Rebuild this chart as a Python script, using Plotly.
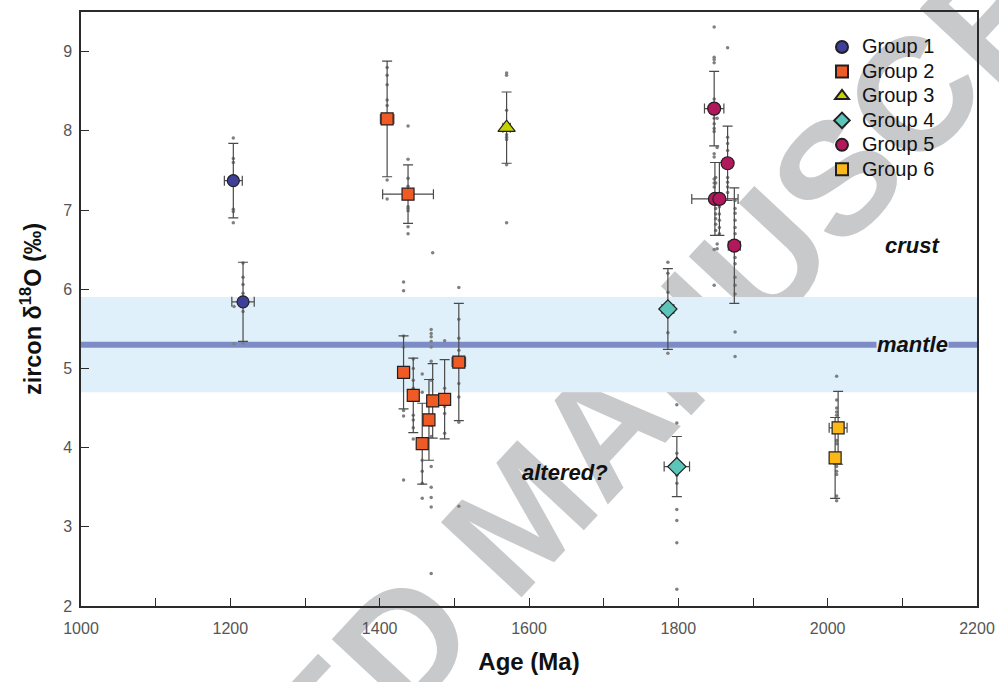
import plotly.graph_objects as go

# ---- mean ages / zircon d18O per sample (Ma, permil) with 2-sigma-ish bars ----
g1_age = [1204, 1217]
g1_d18o = [7.37, 5.84]
g1_err = [0.47, 0.50]
g1_age_err = [12, 15]

g2_age = [1410, 1438, 1432, 1445, 1457, 1466, 1471, 1487, 1506]
g2_d18o = [8.15, 7.20, 4.95, 4.66, 4.05, 4.35, 4.59, 4.61, 5.08]
g2_err = [0.73, 0.37, 0.46, 0.47, 0.51, 0.51, 0.47, 0.50, 0.74]
g2_age_err = [9, 34, 8, 5, 5, 5, 5, 5, 9]

g3_age = [1570]
g3_d18o = [8.04]
g3_err = [0.45]
g3_age_err = [5]

g4_age = [1786, 1798]
g4_d18o = [5.75, 3.76]
g4_err = [0.51, 0.38]
g4_age_err = [8, 17]

g5_age = [1848, 1866, 1849, 1855, 1875]
g5_d18o = [8.28, 7.59, 7.14, 7.14, 6.55]
g5_err = [0.47, 0.47, 0.46, 0.46, 0.73]
g5_age_err = [13, 6, 31, 6, 8]

g6_age = [2014, 2010]
g6_d18o = [4.25, 3.87]
g6_err = [0.46, 0.51]
g6_age_err = [12, 4]

# ---- individual spot analyses ----
dot_age_1 = [1204] * 7 + [1217] * 6 + [1205] * 2
dot_d18o_1 = [7.91, 7.65, 7.60, 7.43, 7.01, 6.98, 6.84,
              6.33, 6.15, 6.06, 5.95, 5.72, 5.32, 5.78, 5.31]

dot_age_2 = ([1410] * 7 + [1438] * 9 + [1471, 1432, 1432, 1506]
             + [1432] * 5 + [1445] * 8 + [1457] * 6
             + [1469] * 14 + [1487] * 5 + [1506] * 7)
dot_d18o_2 = ([8.80, 8.70, 8.58, 8.39, 8.32, 7.38, 7.14]
              + [8.06, 7.64, 7.40, 7.30, 7.04, 7.02, 6.99, 6.79, 6.70]
              + [6.46, 6.09, 5.98, 6.02]
              + [5.41, 5.27, 4.47, 4.40, 3.59]
              + [5.12, 5.00, 4.85, 4.75, 4.41, 4.35, 4.25, 4.11]
              + [4.93, 4.70, 3.84, 3.70, 3.55, 3.36]
              + [5.49, 5.44, 5.40, 5.34, 5.27, 5.09, 4.85, 4.28, 4.14,
                 3.76, 3.50, 3.37, 3.25, 2.41]
              + [5.35, 4.75, 4.52, 4.43, 4.18]
              + [5.62, 5.38, 5.23, 4.81, 4.64, 4.32, 3.26])

dot_age_3 = [1570] * 8
dot_d18o_3 = [8.73, 8.70, 8.26, 7.95, 7.92, 7.89, 7.57, 6.84]

dot_age_4 = [1786] * 6 + [1798] * 10
dot_d18o_4 = [6.34, 6.20, 5.96, 5.65, 5.45, 5.19,
              4.54, 4.31, 3.93, 3.86, 3.65, 3.55, 3.22, 3.08, 2.80, 2.21]

dot_age_5 = ([1848] * 17 + [1852] * 4 + [1866] * 8 + [1850] * 8
             + [1855] * 5 + [1876] * 13)
dot_d18o_5 = ([9.31, 8.93, 8.90, 8.86, 8.40, 8.21, 8.16, 8.09, 8.03, 7.99,
               7.71, 7.67, 7.39, 7.34, 7.29, 6.50, 6.05]
              + [8.16, 7.79, 6.57, 6.51]
              + [9.05, 7.92, 7.84, 7.75, 7.41, 7.35, 7.29, 7.22]
              + [7.41, 7.34, 7.08, 7.02, 6.95, 6.89, 6.82, 6.74]
              + [7.04, 6.95, 6.87, 6.78, 6.70]
              + [7.12, 7.02, 6.96, 6.87, 6.78, 6.70, 6.40, 6.32, 6.15, 6.05,
                 5.94, 5.46, 5.15])

dot_age_6 = [2012] * 12
dot_d18o_6 = [4.90, 4.60, 4.45, 4.41, 4.09, 4.05, 3.76, 3.70, 3.66, 3.39,
              3.33, 4.50]

# ---- reference fields ----
mantle_value = 5.3
mantle_low, mantle_high = 4.7, 5.9

x_ticks = list(range(1000, 2201, 100))
x_tick_text = [str(v) if v % 200 == 0 else "" for v in x_ticks]
y_ticks = [2, 3, 4, 5, 6, 7, 8, 9]

groups = [
    ("Group 1", g1_age, g1_d18o, g1_err, g1_age_err, "circle", "#3d3f99", 12),
    ("Group 2", g2_age, g2_d18o, g2_err, g2_age_err, "square", "#f05a24", 12),
    ("Group 3", g3_age, g3_d18o, g3_err, g3_age_err, "triangle-up", "#c5d300", 15),
    ("Group 4", g4_age, g4_d18o, g4_err, g4_age_err, "diamond", "#5cc5b9", 14),
    ("Group 5", g5_age, g5_d18o, g5_err, g5_age_err, "circle", "#b2185c", 13),
    ("Group 6", g6_age, g6_d18o, g6_err, g6_age_err, "square", "#fbb817", 12),
]
dots = [(dot_age_1, dot_d18o_1), (dot_age_2, dot_d18o_2), (dot_age_3, dot_d18o_3),
        (dot_age_4, dot_d18o_4), (dot_age_5, dot_d18o_5), (dot_age_6, dot_d18o_6)]

BAR = "#4a4a4a"
fig = go.Figure()

for ax, ay in dots:
    fig.add_trace(go.Scatter(
        x=ax, y=ay, mode="markers", showlegend=False, hoverinfo="skip",
        marker=dict(size=3.5, color="#808080"),
    ))

for name, ax, ay, ey, ex, sym, col, size in groups:
    fig.add_trace(go.Scatter(
        x=ax, y=ay, mode="markers",
        # legend rows keep a compact pitch while the label renders larger
        name=f'<span style="font-size:20px">{name}</span>',
        error_y=dict(type="data", array=ey, color=BAR, thickness=1.2, width=5),
        error_x=dict(type="data", array=ex, color=BAR, thickness=1.2, width=5),
        marker=dict(symbol=sym, size=size, color=col,
                    line=dict(color="#231f20", width=1.2)),
    ))

shapes = [
    # diagonal stamp beneath the plot
    dict(type="rect", xref="paper", yref="paper",
         x0=0.47, x1=0.49, y0=0.16, y1=0.18,
         line=dict(width=0), fillcolor="rgba(0,0,0,0)", layer="below",
         label=dict(text="<b>ACCEPTED MANUSCRIPT</b>", textangle=-47,
                    textposition="middle center",
                    font=dict(family="Liberation Sans", size=160,
                              color="#c8c9cb"))),
    dict(type="rect", xref="paper", yref="y", x0=0, x1=1,
         y0=mantle_low, y1=mantle_high, fillcolor="#dff0fa",
         line=dict(width=0), layer="below"),
    dict(type="line", xref="paper", yref="y", x0=0, x1=1,
         y0=mantle_value, y1=mantle_value,
         line=dict(color="#7d8cc7", width=6), layer="below"),
]

label_font = dict(family="Liberation Sans", size=22, color="#111111")
annotations = [
    dict(x=2113, y=6.55, xref="x", yref="y", text="<b><i>crust</i></b>",
         showarrow=False, font=label_font),
    dict(x=2113, y=mantle_value, xref="x", yref="y", text="<b><i>mantle</i></b>",
         showarrow=False, font=label_font, bgcolor="#dff0fa", borderpad=0),
    dict(x=1648, y=3.69, xref="x", yref="y", text="<b><i>altered?</i></b>",
         showarrow=False, font=label_font),
]

axis_common = dict(
    showline=True, linecolor="#2b2b2b", linewidth=1.5, mirror=True,
    ticks="inside", ticklen=8, tickwidth=1.2, tickcolor="#2b2b2b",
    showgrid=False, zeroline=False, automargin=False,
    tickfont=dict(family="Liberation Sans", size=16, color="#555555"),
)

fig.update_layout(
    width=999, height=682,
    margin=dict(l=81, r=22, t=12, b=76),
    paper_bgcolor="white", plot_bgcolor="white",
    shapes=shapes, annotations=annotations,
    showlegend=True,
    legend=dict(x=0.827, y=0.97, xanchor="left", yanchor="top",
                bgcolor="rgba(0,0,0,0)", borderwidth=0,
                font=dict(family="Liberation Sans", size=16.5, color="#111111"),
                itemsizing="constant", tracegroupgap=0),
    xaxis=dict(range=[1000, 2200], tickvals=x_ticks, ticktext=x_tick_text,
               ticklabelstandoff=7,
               title=dict(text="<b>Age (Ma)</b>", standoff=17,
                          font=dict(family="Liberation Sans", size=24,
                                    color="#111111")),
               **axis_common),
    yaxis=dict(range=[2, 9.5], tickvals=y_ticks, ticklabelstandoff=4,
               title=dict(text="<b>zircon δ<sup>18</sup>O (‰)</b>", standoff=15,
                          font=dict(family="Liberation Sans", size=23.5,
                                    color="#111111")),
               **axis_common),
)

fig.write_html("out.html")
